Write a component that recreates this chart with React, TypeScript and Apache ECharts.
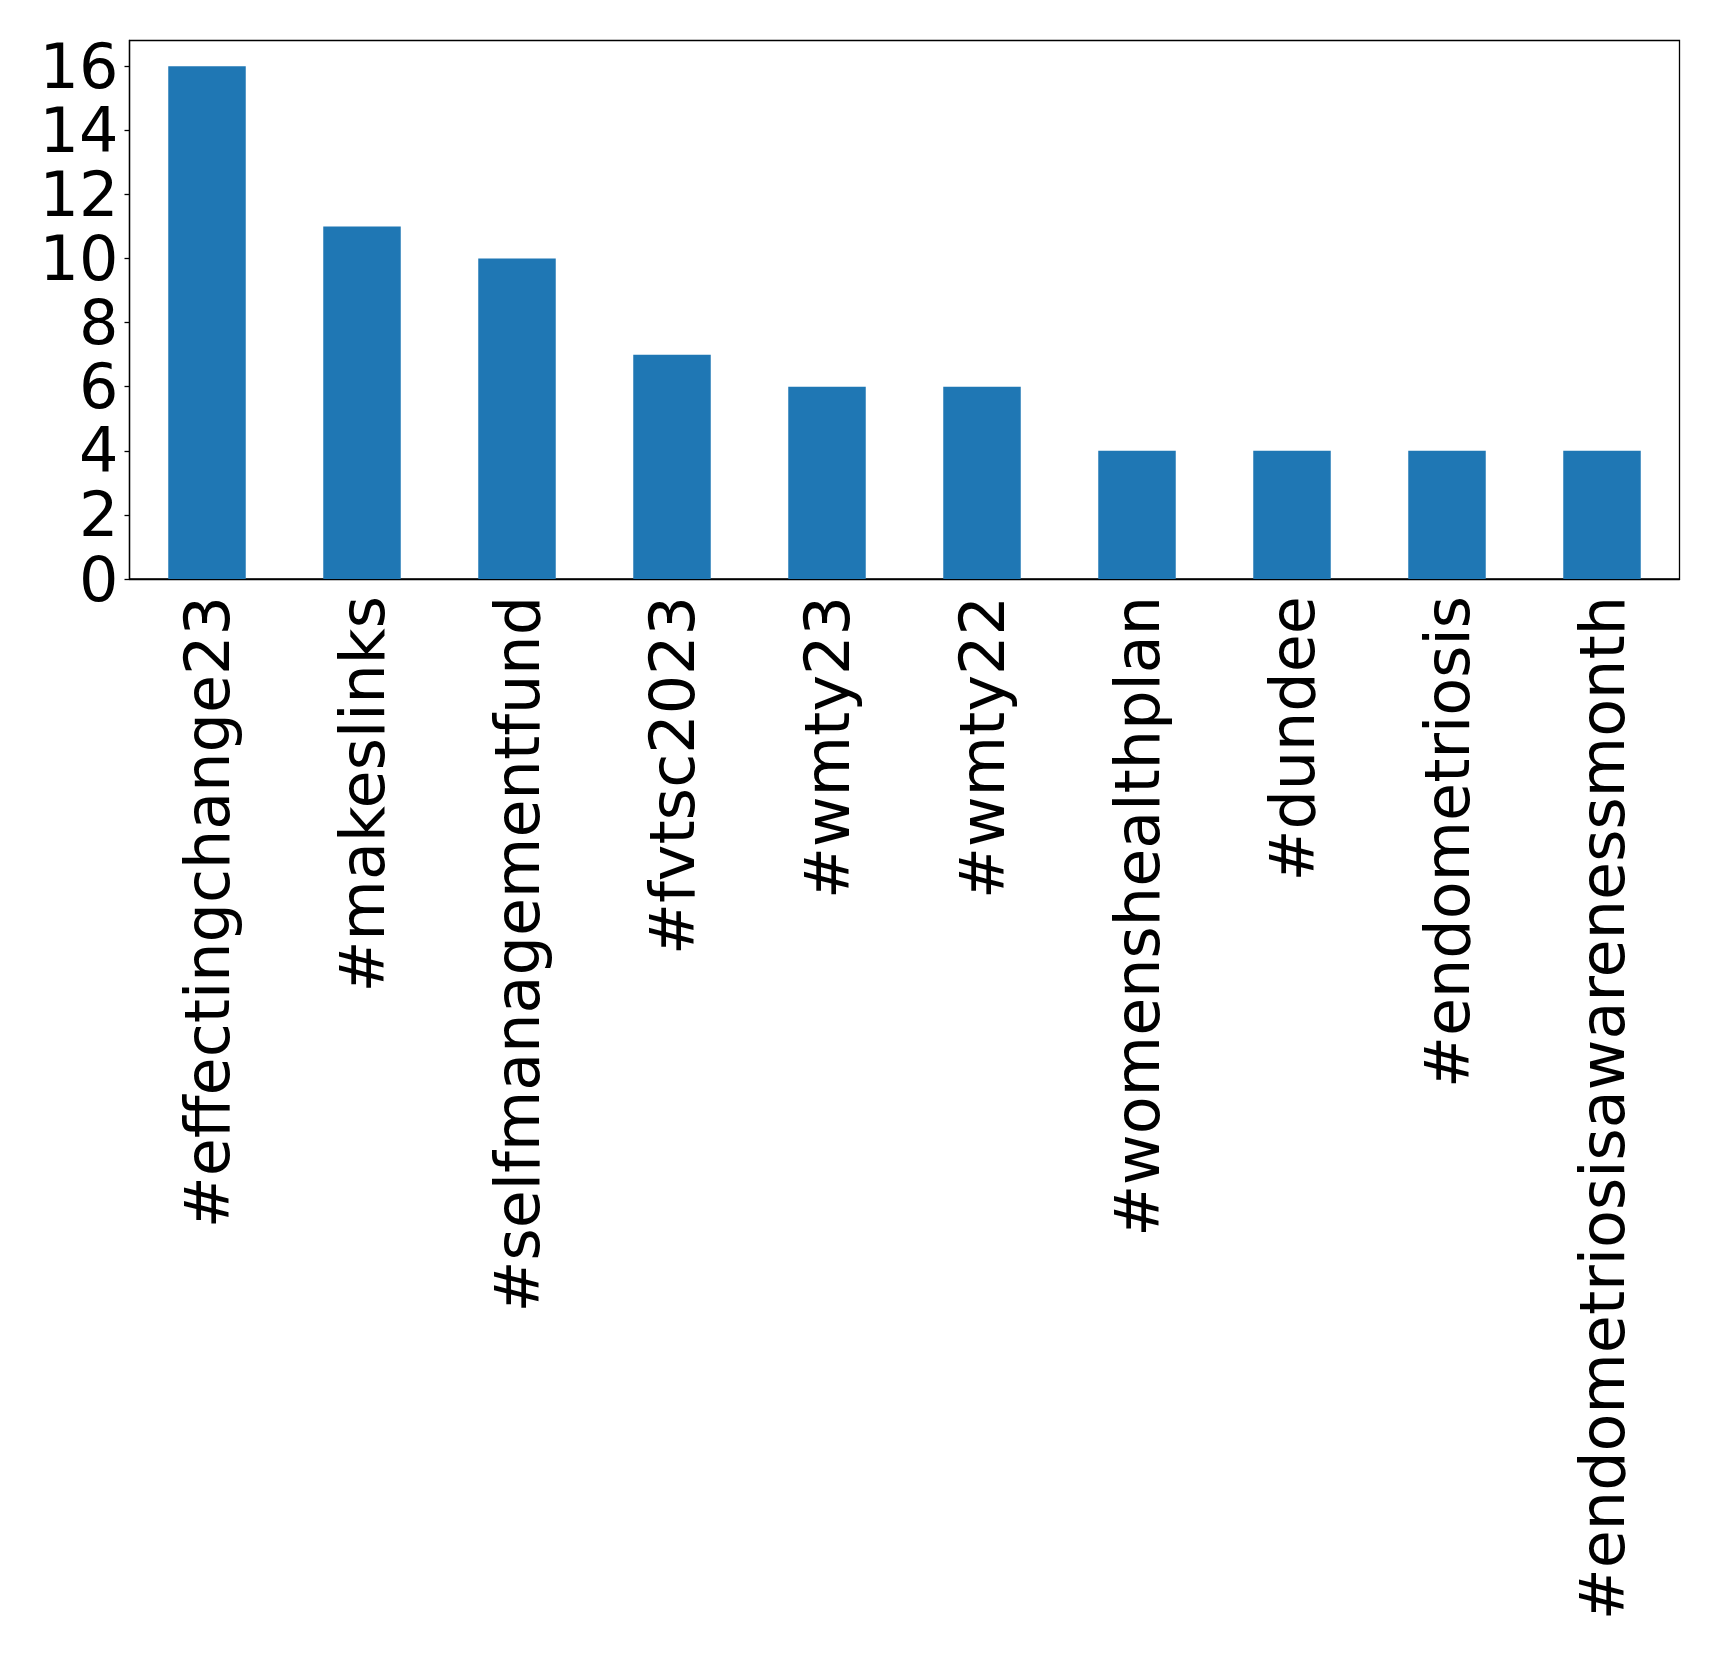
import React, { useEffect, useRef } from "react";
import * as echarts from "echarts";

const categories = [
  "#effectingchange23",
  "#makeslinks",
  "#selfmanagementfund",
  "#fvtsc2023",
  "#wmty23",
  "#wmty22",
  "#womenshealthplan",
  "#dundee",
  "#endometriosis",
  "#endometriosisawarenessmonth",
];
const counts = [16, 11, 10, 7, 6, 6, 4, 4, 4, 4];
const yTicks = [0, 2, 4, 6, 8, 10, 12, 14, 16];

export default function App() {
  const ref = useRef<HTMLDivElement>(null);
  useEffect(() => {
    document.body.style.margin = "0";
    const chart = echarts.init(ref.current!, null, { renderer: "svg" });
    chart.setOption({
      animation: false,
      backgroundColor: "#ffffff",
      grid: {
        left: 129.5,
        right: 39.5,
        top: 40.5,
        bottom: 1081,
        show: true,
        borderColor: "#000",
        borderWidth: 1.3,
        backgroundColor: "transparent",
      },
      xAxis: {
        type: "category",
        data: categories,
        axisLine: { lineStyle: { color: "#000", width: 1.3 } },
        axisTick: { alignWithLabel: true, length: 5, lineStyle: { color: "#000", width: 1.3 } },
        axisLabel: {
          rotate: 90,
          interval: 0,
          margin: 17,
          fontSize: 62,
          fontFamily: "DejaVu Sans",
          color: "#000",
        },
        splitLine: { show: false },
      },
      yAxis: {
        type: "value",
        min: 0,
        max: 16.8,
        interval: 2,
        axisLine: { show: true, lineStyle: { color: "#000", width: 1.3 } },
        axisTick: { show: true, length: 5, customValues: yTicks, lineStyle: { color: "#000", width: 1.3 } },
        axisLabel: {
          customValues: yTicks,
          margin: 11,
          fontSize: 62,
          lineHeight: 54,
          fontFamily: "DejaVu Sans",
          color: "#000",
        },
        splitLine: { show: false },
      },
      series: [
        {
          type: "bar",
          data: counts,
          barWidth: "50%",
          itemStyle: { color: "#1f77b4" },
        },
      ],
    });
    return () => chart.dispose();
  }, []);
  return (
    <div
      ref={ref}
      style={{ position: "absolute", left: 0, top: 0, width: 1719, height: 1660 }}
    />
  );
}
